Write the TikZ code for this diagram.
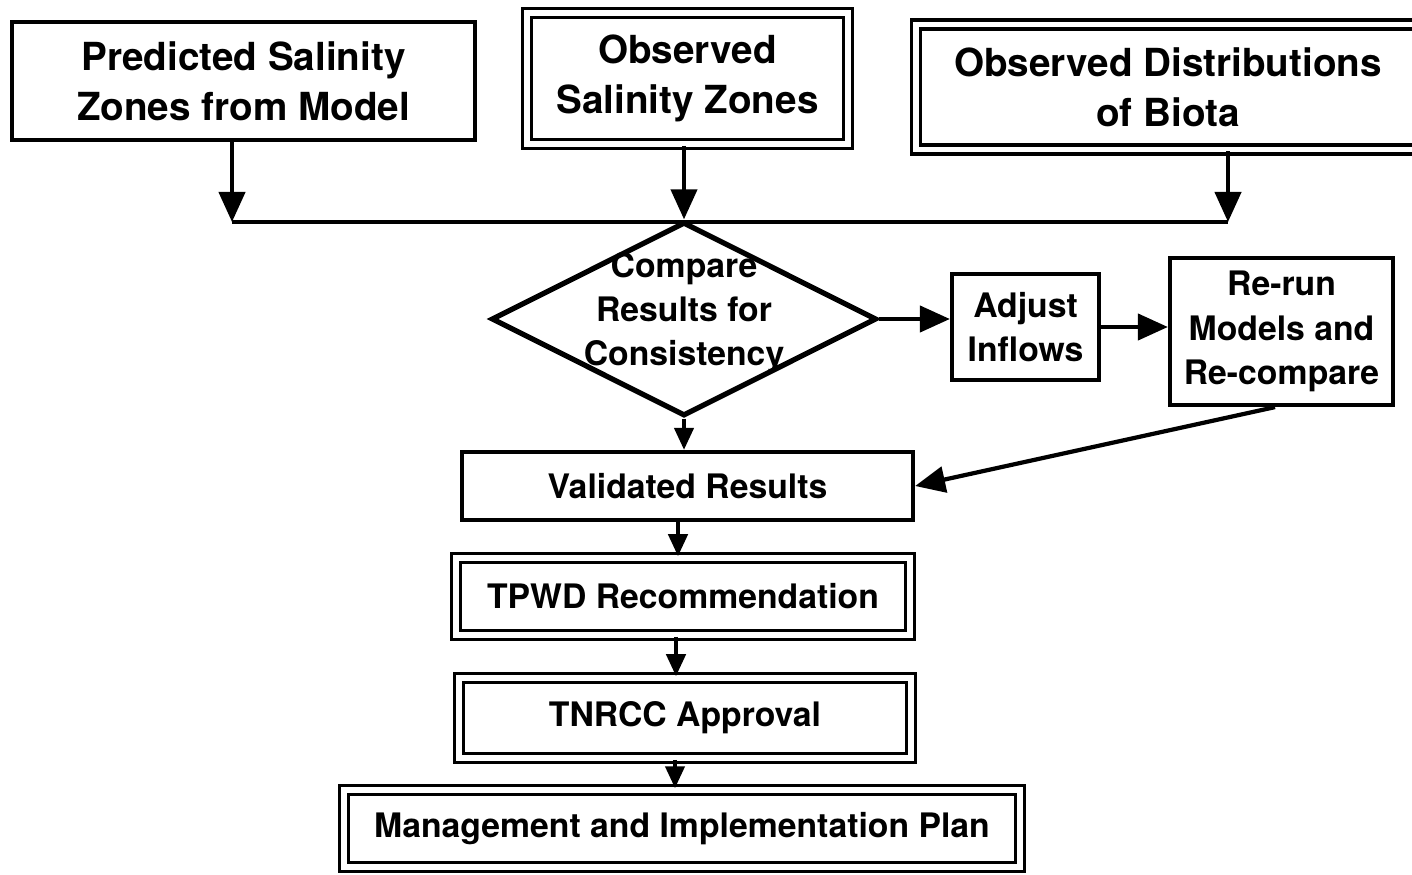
\documentclass[tikz,border=0pt]{standalone}
\usepackage{fontspec}
\setmainfont{TeX Gyre Heros}
\usetikzlibrary{arrows.meta,shapes.geometric}

\begin{document}
\begin{tikzpicture}[>={Triangle[length=3mm,width=2.6mm]},line width=1.2pt]
        \tikzset{box/.style={draw,line width=1.2pt,align=center,inner sep=0pt,font=\bfseries\fontsize{9.6}{12.6}\selectfont},
            bigbox/.style={box,font=\bfseries\fontsize{11}{14.2}\selectfont},
            dbl/.style={double,line width=1pt,double distance=1.5pt},
            sarr/.style={-{Triangle[length=2.2mm,width=1.9mm]}}}
        \clip(0,0)rectangle(14.12,-8.75);
        \node[bigbox,minimum width=4.63cm,minimum height=1.18cm](pred)at(2.435,-0.81){Predicted Salinity\\Zones from Model};
        \node[bigbox,dbl,minimum width=3.21cm,minimum height=1.31cm](obs)at(6.875,-0.785){Observed\\Salinity Zones};
        \node[bigbox,dbl,minimum width=5.04cm,minimum height=1.25cm](bio)at(11.68,-0.87){Observed Distributions\\of Biota};
        \coordinate(jl)at(2.32,-2.22);
        \coordinate(jr)at(12.28,-2.22);
        \node[diamond,draw,line width=1.5pt,inner sep=0pt,minimum width=3.85cm,minimum height=1.94cm,
            label={[font=\bfseries\fontsize{9.6}{12.5}\selectfont,align=center,yshift=0.06cm]center:Compare\\Results for\\Consistency}](cmp)at(6.84,-3.19){};
        \node[box,minimum width=1.47cm,minimum height=1.06cm](adj)at(10.255,-3.27){Adjust\\Inflows};
        \node[box,minimum width=2.23cm,minimum height=1.47cm](rerun)at(12.815,-3.315){Re-run\\Models and\\Re-compare};
        \node[box,minimum width=4.51cm,minimum height=0.68cm](valid)at(6.875,-4.86){Validated Results};
        \node[box,dbl,minimum width=4.54cm,minimum height=0.77cm](tpwd)at(6.83,-5.965){TPWD Recommendation};
        \node[box,dbl,minimum width=4.52cm,minimum height=0.80cm](tnrcc)at(6.85,-7.18){TNRCC Approval};
        \node[box,dbl,minimum width=6.76cm,minimum height=0.77cm](plan)at(6.82,-8.285){Management and Implementation Plan};
        \draw[->](pred.south-|jl)--(jl);
        \draw[->](bio.south-|jr)--(jr);
        \draw(jl)--(jr);
        \draw[->](obs.south-|cmp.north)--(cmp.north);
        \draw[->](cmp.east)--(cmp.east-|adj.west);
        \draw[->](adj.east)--(adj.east-|rerun.west);
        \draw[->](rerun.south-|12.75,0)--(valid.east);
        \draw[sarr](cmp.south)--(cmp.south|-valid.north);
        \draw[sarr](valid.south-|6.78,0)--(tpwd.north-|6.78,0);
        \draw[sarr](tpwd.south-|6.76,0)--(tnrcc.north-|6.76,0);
        \draw[sarr](tnrcc.south-|6.75,0)--(plan.north-|6.75,0);
    \end{tikzpicture}
\end{document}
